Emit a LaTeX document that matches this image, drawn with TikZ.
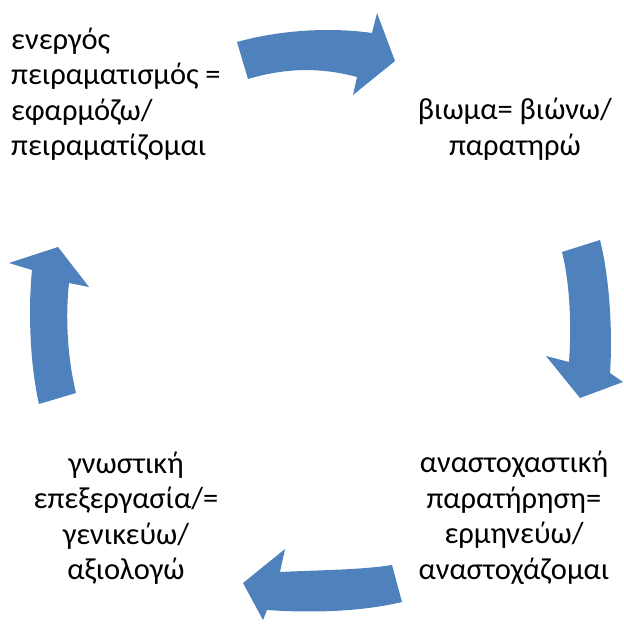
\documentclass[tikz,border=0pt]{standalone}
\usepackage{fontspec}
\setmainfont{Carlito}
\definecolor{arrowblue}{HTML}{4F81BD}
\tikzset{
  cyclearrow/.style={fill=arrowblue, draw=none},
  label/.style={inner sep=0pt, font=\fontsize{30.5}{35.5}\selectfont, text=black}
}
\begin{document}
\begin{tikzpicture}[x=1pt,y=-1pt]
\useasboundingbox (0,0) rectangle (624,627);
% texts
\node[label, align=left, anchor=west] (t1) at (11,94) {ενεργός\\πειραματισμός =\\εφαρμόζω/\\πειραματίζομαι};
\node[label, align=center] (t2) at (515,129) {βιωμα= βιώνω/\\παρατηρώ};
\node[label, align=center] (t3) at (514,518) {αναστοχαστική\\παρατήρηση=\\ερμηνεύω/\\αναστοχάζομαι};
\node[label, align=center] (t4) at (126,518) {γνωστική\\επεξεργασία/=\\γενικεύω/\\αξιολογώ};
% arrows
\fill[cyclearrow] (237,42) .. controls (280,30) and (330,27) .. (372,33) -- (377,13) -- (395,61) -- (353,95) -- (357,77) .. controls (320,67) and (285,68) .. (248,79) -- cycle;
\fill[cyclearrow] (600,240) .. controls (609,275) and (613,330) .. (610,373) -- (623,382) -- (580,398) -- (546,356) -- (569,362) .. controls (572,320) and (569,280) .. (562,252) -- cycle;
\fill[cyclearrow] (402,602) .. controls (360,612) and (310,613) .. (267,610) -- (263,620) -- (243,583) -- (285,549) -- (280,572) .. controls (320,570) and (360,570) .. (392,565) -- cycle;
\fill[cyclearrow] (39,404) .. controls (30,365) and (28,310) .. (32,270) -- (9,263) -- (58,247) -- (89,287) -- (69,283) .. controls (65,320) and (68,360) .. (76,393) -- cycle;
\end{tikzpicture}
\end{document}
